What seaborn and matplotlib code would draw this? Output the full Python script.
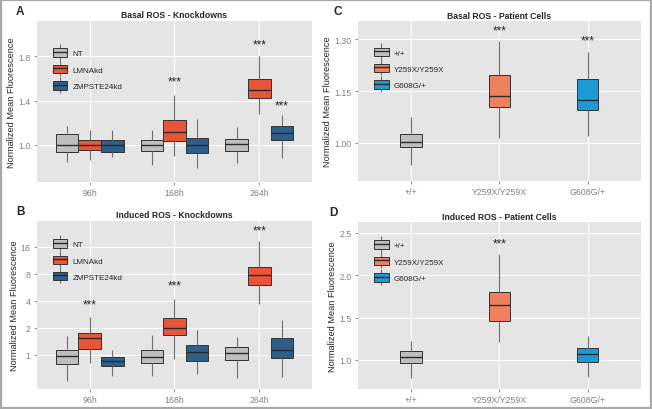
import numpy as np
import pandas as pd
import seaborn as sns
import matplotlib.pyplot as plt
from matplotlib.patches import Patch, Rectangle
from matplotlib.lines import Line2D

# categories
time_points = ["96h", "168h", "264h"]
kd_groups = ["NT", "LMNAkd", "ZMPSTE24kd"]
patient_groups = ["+/+", "Y259X/Y259X", "G608G/+"]

kd_colors = ["#BEBEBE", "#E9553B", "#2E5E8A"]
patient_colors = ["#BEBEBE", "#EE7F5F", "#1D9AD6"]

# five-number summaries: whisker low, Q1, median, Q3, whisker high
# panel A - basal ROS, knockdowns (one entry per time point)
basal_nt = [[0.844, 0.934, 1.000, 1.099, 1.174],
            [0.820, 0.943, 0.994, 1.039, 1.129],
            [0.832, 0.943, 1.003, 1.051, 1.162]]
basal_lmna = [[0.865, 0.949, 0.994, 1.039, 1.129],
              [0.898, 1.033, 1.114, 1.226, 1.451],
              [1.280, 1.421, 1.499, 1.595, 1.800]]
basal_zmp = [[0.889, 0.934, 1.000, 1.039, 1.135],
             [0.789, 0.928, 0.994, 1.060, 1.235],
             [0.880, 1.039, 1.105, 1.168, 1.265]]
basal_kd_stars = [(1, 1, 1.57), (2, 1, 1.91), (2, 2, 1.355)]  # (time idx, group idx, y)

# panel B - induced ROS, knockdowns (log2 axis)
induced_nt = [[0.505, 0.787, 0.958, 1.127, 1.63],
              [0.584, 0.815, 0.934, 1.137, 1.65],
              [0.546, 0.872, 1.050, 1.206, 1.585]]
induced_lmna = [[0.80, 1.146, 1.52, 1.73, 2.64],
                [0.895, 1.64, 1.996, 2.53, 4.19],
                [3.66, 5.90, 7.62, 9.59, 18.3]]
induced_zmp = [[0.574, 0.742, 0.857, 0.95, 1.137],
               [0.604, 0.857, 1.08, 1.27, 1.88],
               [0.56, 0.911, 1.137, 1.52, 2.43]]
induced_kd_stars = [(0, 1, 3.66), (1, 1, 5.95), (2, 1, 24.3)]

# panel C - basal ROS, patient cells
basal_patient = [[0.937, 0.989, 1.004, 1.027, 1.076],
                 [1.013, 1.104, 1.137, 1.195, 1.294],
                 [1.021, 1.096, 1.123, 1.184, 1.262]]
basal_patient_stars = [(1, 1.326), (2, 1.297)]

# panel D - induced ROS, patient cells
induced_patient = [[0.783, 0.969, 1.031, 1.110, 1.220],
                   [1.209, 1.465, 1.650, 1.799, 2.252],
                   [0.795, 0.972, 1.075, 1.142, 1.280]]
induced_patient_stars = [(1, 2.378)]


def kd_frame(series):
    rows = []
    for g, per_time in zip(kd_groups, series):
        for t, five in zip(time_points, per_time):
            for v in five:
                rows.append((t, g, v))
    return pd.DataFrame(rows, columns=["cat", "group", "value"])


def patient_frame(series):
    rows = []
    for g, five in zip(patient_groups, series):
        for v in five:
            rows.append((g, g, v))
    return pd.DataFrame(rows, columns=["cat", "group", "value"])


sns.set_style("white", {"axes.facecolor": "#E5E5E5"})
plt.rcParams["font.family"] = ["Liberation Sans", "DejaVu Sans"]

fig = plt.figure(figsize=(6.52, 4.10), dpi=100)
fig.patches.append(Rectangle((0.0015, 0.0025), 0.997, 0.995, transform=fig.transFigure,
                             fill=False, edgecolor="#A8A8A8", linewidth=1.6))

axA = fig.add_axes([0.0567, 0.5537, 0.4218, 0.3927])
axB = fig.add_axes([0.0567, 0.0488, 0.4218, 0.4100])
axC = fig.add_axes([0.5490, 0.5560, 0.4340, 0.3900])
axD = fig.add_axes([0.5490, 0.0488, 0.4340, 0.4070])

box_kws = dict(whis=(0, 100), linewidth=0.7, linecolor="#333333", saturation=1,
               whiskerprops=dict(color="#6E6E6E", linewidth=0.8),
               capprops=dict(linewidth=0), medianprops=dict(color="#2A2A2A", linewidth=1.0),
               legend=False)


def draw(ax, df, order, hue_order, colors, width, log=False):
    kws = dict(box_kws)
    if log:
        kws["log_scale"] = (False, 2)
    sns.boxplot(data=df, x="cat", y="value", hue="group", order=order, hue_order=hue_order,
                palette=colors, width=width, dodge=(order != hue_order), ax=ax, **kws)


def style(ax, title, letter, letter_x, yticks, yticklabels, ylim, colors, labels, leg_y):
    ax.set_title(title, fontsize=6.2, fontweight="bold", pad=2.6)
    ax.set_xlabel("")
    ax.set_ylabel("Normalized Mean Fluorescence", fontsize=6.7, labelpad=1.5)
    ax.set_ylim(*ylim)
    ax.set_yticks(yticks)
    ax.set_yticklabels(yticklabels)
    ax.minorticks_off()
    ax.grid(True, color="white", linewidth=0.8)
    ax.set_axisbelow(True)
    ax.tick_params(axis="both", labelsize=6.3, labelcolor="#808080", color="#808080",
                   length=2.5, width=0.6, pad=2, left=True, bottom=True)
    for s in ax.spines.values():
        s.set_visible(False)
    ax.text(letter_x, 1.025, letter, transform=ax.transAxes, fontsize=8.5,
            fontweight="bold", ha="left", va="bottom")
    handles = []
    for c in colors:
        handles.append((Line2D([0], [0], color="#6E6E6E", marker="|", markersize=12,
                               markeredgewidth=0.8, linestyle="none"),
                        Patch(facecolor=c, edgecolor="#333333", linewidth=0.7),
                        Line2D([0], [0], color="#2A2A2A", linewidth=1.0)))
    ax.legend(handles, labels, loc="upper left", bbox_to_anchor=(0.042, leg_y), frameon=False,
              fontsize=5.8, handlelength=1.85, handleheight=1.25, labelspacing=0.92,
              handletextpad=0.6, borderpad=0)


def stars(ax, items):
    for x, y in items:
        ax.text(x, y, "***", ha="center", va="center", fontsize=8.5)


offsets = [-0.267, 0.0, 0.267]

draw(axA, kd_frame([basal_nt, basal_lmna, basal_zmp]), time_points, kd_groups, kd_colors, 0.8)
style(axA, "Basal ROS - Knockdowns", "A", -0.076, [1.0, 1.4, 1.8], ["1.0", "1.4", "1.8"],
      (0.663, 2.12), kd_colors, kd_groups, 0.855)
axA.set_xlim(-0.62, 2.62)
stars(axA, [(t + offsets[g], y) for t, g, y in basal_kd_stars])

draw(axB, kd_frame([induced_nt, induced_lmna, induced_zmp]), time_points, kd_groups, kd_colors,
     0.8, log=True)
style(axB, "Induced ROS - Knockdowns", "B", -0.076, [1, 2, 4, 8, 16], ["1", "2", "4", "8", "16"],
      (0.415, 30.9), kd_colors, kd_groups, 0.915)
axB.set_xlim(-0.62, 2.62)
stars(axB, [(t + offsets[g], y) for t, g, y in induced_kd_stars])

draw(axC, patient_frame(basal_patient), patient_groups, patient_groups, patient_colors, 0.24)
style(axC, "Basal ROS - Patient Cells", "C", -0.088, [1.0, 1.15, 1.30], ["1.00", "1.15", "1.30"],
      (0.890, 1.352), patient_colors, patient_groups, 0.86)
axC.set_xlim(-0.6, 2.6)
stars(axC, basal_patient_stars)

draw(axD, patient_frame(induced_patient), patient_groups, patient_groups, patient_colors, 0.24)
style(axD, "Induced ROS - Patient Cells", "D", -0.1, [1.0, 1.5, 2.0, 2.5], ["1.0", "1.5", "2.0", "2.5"],
      (0.657, 2.626), patient_colors, patient_groups, 0.915)
axD.set_xlim(-0.6, 2.6)
stars(axD, induced_patient_stars)

fig.savefig("out.png", dpi=100)
plt.close(fig)
